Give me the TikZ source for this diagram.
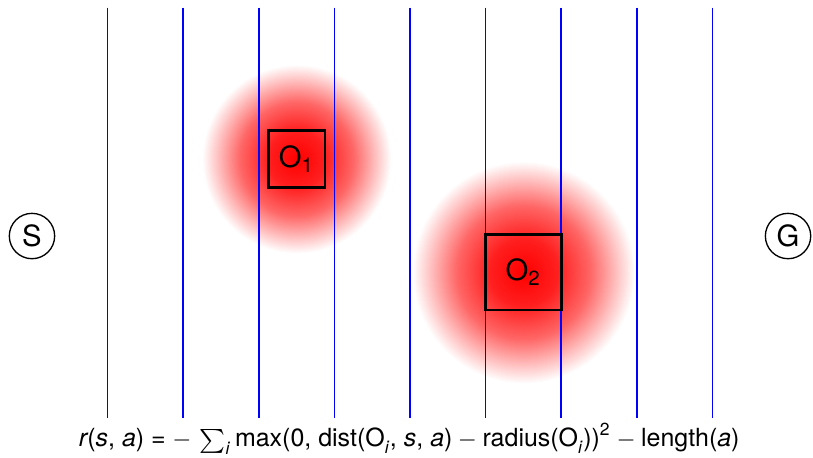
\documentclass[tikz,border=0pt]{standalone}
\usepackage{amsmath}
\usepackage{fontspec}
\setmainfont{TeX Gyre Heros}
\pgfdeclareradialshading{glow}{\pgfpoint{0cm}{0cm}}{color(0bp)=(red); color(7.5bp)=(red!88!white); color(15bp)=(red!60!white); color(20bp)=(red!30!white); color(25bp)=(white); color(50bp)=(white)}
\begin{document}
\begin{tikzpicture}
\useasboundingbox (-0.423,-2.923) rectangle (10.33,3.122);
\tikzset{
  endpt/.style={draw, circle, minimum size=0.6cm, inner sep=0pt, line width=0.5pt, font=\fontsize{11}{13}\selectfont},
  obst/.style={draw, line width=1pt, inner sep=0pt, font=\fontsize{11}{13}\selectfont},
  gridline/.style={blue, line width=0.6pt}
}
% glows
\shade[shading=glow] (3.5,1.02) circle (1.25);
\shade[shading=glow] (6.5,-0.48) circle (1.47);
% lines
\foreach \i in {1,...,9} {
  \coordinate (t\i) at (\i,3.02);
  \coordinate (b\i) at (\i,-2.41);
  \draw[gridline] (t\i) -- (b\i);
}
\node[endpt] (S) at (0,0) {S};
\node[endpt] (G) at (10,0) {G};
\node[obst, minimum size=0.75cm] (O1) at (3.5,1.02) {O$_{\text{1}}$};
\node[obst, minimum size=1cm] (O2) at (6.5,-0.48) {O$_{\text{2}}$};
\node[anchor=base, inner sep=0pt, font=\fontsize{9.4}{12}\selectfont] (F) at (4.99,-2.79) {$\textit{r}\text{(}\textit{s}\text{, }\textit{a}\text{)} \mathrel{\text{=}} -\,\sum_{\textit{i}} \text{max(0, dist(O}_{\textit{i}}\text{, }\textit{s}\text{, }\textit{a}\text{)} - \text{radius(O}_{\textit{i}}\text{))}^{\text{2}} - \text{length(}\textit{a}\text{)}$};
\end{tikzpicture}
\end{document}
